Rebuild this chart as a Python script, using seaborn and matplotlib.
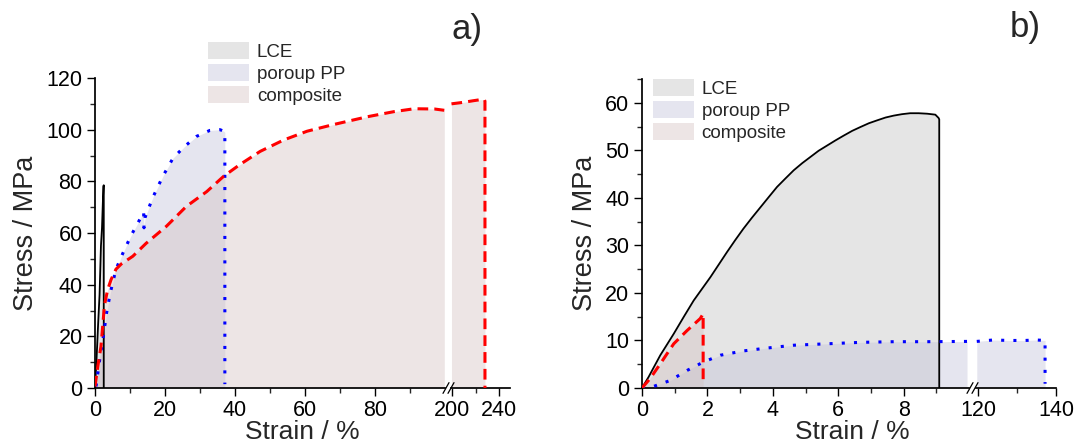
import numpy as np
import pandas as pd
import matplotlib
matplotlib.use("Agg")
import matplotlib.pyplot as plt
from matplotlib.patches import Patch
from matplotlib.ticker import MultipleLocator
import seaborn as sns

# ---- panel a) data (strain %, stress MPa) ----
a_lce_strain = [0, 0.4, 0.9, 1.3, 1.7, 2.0, 2.2, 2.4, 2.5, 2.5]
a_lce_stress = [0, 10, 25, 36, 55, 62, 70, 78, 78.5, 0]

a_pp_strain = [0.3, 1.2, 2.5, 3.3, 4.4, 6.0, 7.9, 10.3, 12.7, 13.9, 14.0, 14.3, 16.6,
               19.4, 22.3, 25.6, 29.0, 32.8, 35.7, 36.8, 37.1, 37.1]
a_pp_stress = [0.6, 9.7, 21, 29, 37, 46, 52, 59, 65, 68, 62, 66, 74,
               82, 89, 93.5, 97.4, 99.7, 100, 99.4, 99, 1.5]

a_comp_strain = [0, 0.8, 1.7, 2.7, 3.6, 4.6, 6.0, 7.5, 10.8, 14.6, 20.4, 26.1, 31.9,
                 36.8, 41.4, 47.2, 53.9, 60.6, 68.2, 77.8, 85.5, 91.2, 97.0, 99.8,
                 199.5, 210, 218, 224, 227.5, 228, 228]
a_comp_stress = [0.6, 8.4, 16, 32, 38, 42, 46, 48, 51, 56, 62.6, 70.3, 76,
                 82, 86.5, 91.6, 96, 99.4, 102, 105, 107, 108.1, 108, 107.5,
                 110, 110.6, 111.2, 111.6, 111.6, 111, 0]

# ---- panel b) data ----
b_lce_strain = [0, 0.2, 0.38, 0.56, 0.77, 0.97, 1.28, 1.58, 1.84, 2.09, 2.35, 2.6,
                2.85, 3.1, 3.36, 3.62, 3.88, 4.13, 4.39, 4.64, 4.9, 5.15, 5.4,
                5.66, 5.92, 6.17, 6.43, 6.68, 6.94, 7.19, 7.45, 7.7, 7.95, 8.2,
                8.46, 8.72, 8.97, 9.07, 9.09, 9.09]
b_lce_stress = [0, 2.3, 4.6, 6.9, 9.2, 11.4, 15.0, 18.4, 20.9, 23.3, 26.0, 28.6,
                31.1, 33.5, 35.8, 38, 40.2, 42.3, 44.1, 45.8, 47.3, 48.6, 49.9,
                51, 52.1, 53.1, 54.1, 54.9, 55.7, 56.3, 56.9, 57.3, 57.6, 57.8,
                57.8, 57.7, 57.5, 56.8, 56.5, 0]

b_pp_strain = [0, 0.36, 0.87, 1.38, 1.89, 2.4, 3.1, 3.82, 4.64, 5.66, 6.68, 7.7,
               8.72, 9.94, 119.7, 123.9, 128, 132, 135, 137.2, 137.2]
b_pp_stress = [0, 0.35, 1.6, 3.7, 5.5, 6.9, 7.8, 8.4, 9.0, 9.3, 9.6, 9.74,
               9.74, 9.8, 9.8, 10.1, 10.0, 10.0, 10.1, 10.0, 0.9]

b_comp_strain = [0, 0.25, 0.56, 0.97, 1.38, 1.78, 1.87, 1.87]
b_comp_stress = [0, 2, 5.1, 9.3, 12.1, 14.6, 15.6, 1.6]

labels = ["LCE", "poroup PP", "composite"]
fill_colors = ["#bebebe", "#c0c0d7", "#d2c0c0"]
line_colors = ["black", "#0000ff", "#ff0000"]
line_styles = ["-", (0, (1, 3)), (0, (3.5, 2))]
line_widths = [1.3, 2.2, 2.2]

sns.set_theme(style="ticks")
plt.rcParams["font.family"] = ["Liberation Sans", "DejaVu Sans"]
plt.rcParams["xtick.direction"] = "out"
plt.rcParams["ytick.direction"] = "out"

W, H = 1076, 447
fig = plt.figure(figsize=(W / 100, H / 100), dpi=100)


def rect(x0, x1, ytop, ybot):
    return [x0 / W, 1 - ybot / H, (x1 - x0) / W, (ybot - ytop) / H]


def draw(ax, xs, ys, i, lo, hi):
    df = pd.DataFrame({"x": xs, "y": ys})
    df = df[(df.x >= lo) & (df.x <= hi)]
    if df.empty:
        return
    ax.fill_between(df.x, 0, df.y, color=fill_colors[i], alpha=0.4, lw=0)
    sns.lineplot(data=df, x="x", y="y", ax=ax, sort=False, estimator=None,
                 color=line_colors[i], lw=line_widths[i], zorder=3)
    ax.lines[-1].set_linestyle(line_styles[i])


def panel(rects, xlims, ylim, series, xmaj, xmin, ymaj, ymin, right_major, right_minor):
    axl = fig.add_axes(rect(*rects[0]))
    axr = fig.add_axes(rect(*rects[1]), sharey=axl)
    for i, (xs, ys) in enumerate(series):
        draw(axl, xs, ys, i, *xlims[0])
        draw(axr, xs, ys, i, *xlims[1])
    axl.set_xlim(*xlims[0])
    axr.set_xlim(*xlims[1])
    axl.set_ylim(*ylim)
    for ax in (axl, axr):
        ax.set_xlabel("")
        ax.set_ylabel("")
        ax.spines["top"].set_visible(False)
        ax.spines["right"].set_visible(False)
        ax.tick_params(which="major", length=6, width=1, labelsize=15.5, pad=3, colors="black")
        ax.tick_params(which="minor", length=3.5, width=1)
        ax.spines["bottom"].set_color("black")
        ax.spines["left"].set_color("black")
    hi = xlims[0][1]
    axl.set_xticks(np.arange(0, hi - 1e-6, xmaj))
    axl.set_xticks(np.arange(xmin, hi - 1e-6, xmin), minor=True)
    axl.xaxis.set_major_formatter(matplotlib.ticker.FormatStrFormatter("%d"))
    axl.yaxis.set_major_locator(MultipleLocator(ymaj))
    axl.yaxis.set_minor_locator(MultipleLocator(ymin))
    axr.set_xticks(right_major)
    axr.set_xticks(right_minor, minor=True)
    axr.spines["left"].set_visible(False)
    axr.tick_params(axis="y", which="both", left=False, labelleft=False)
    # break marks
    d = 0.012
    kw = dict(color="black", lw=0.9, clip_on=False, transform=fig.transFigure)
    xb = (rects[0][1] + 1) / W
    yb = 1 - rects[0][3] / H
    for off in (0, 5 / W):
        fig.lines.append(plt.Line2D([xb + off - 3 / W, xb + off + 3 / W],
                                    [yb - d, yb + d], **kw))
    axl.set_ylabel("Stress / MPa", fontsize=19.5, labelpad=5)
    return axl, axr


# panel a
axa, axa2 = panel([(95, 445, 78, 388), (451, 510, 78, 388)],
                  [(0, 100), (199.1, 249.3)], (0, 120),
                  [(a_lce_strain, a_lce_stress), (a_pp_strain, a_pp_stress),
                   (a_comp_strain, a_comp_stress)],
                  20, 10, 20, 10, [200, 240], [220])

# panel b
axb, axb2 = panel([(642, 969, 79, 388), (976, 1056, 79, 388)],
                  [(0, 10), (119.5, 140)], (0, 65),
                  [(b_lce_strain, b_lce_stress), (b_pp_strain, b_pp_stress),
                   (b_comp_strain, b_comp_stress)],
                  2, 1, 10, 5, [120, 140], [130])

fig.text(302 / W, 1 - 432 / H, "Strain / %", fontsize=19, ha="center", va="center")
fig.text(852 / W, 1 - 432 / H, "Strain / %", fontsize=19, ha="center", va="center")
fig.text(467 / W, 1 - 29 / H, "a)", fontsize=25, ha="center", va="center")
fig.text(1025 / W, 1 - 28 / H, "b)", fontsize=25, ha="center", va="center")

handles = [Patch(facecolor=c, alpha=0.4, edgecolor="none") for c in fill_colors]
for x0, y0 in [(208, 42), (653, 79)]:
    fig.legend(handles, labels, loc="upper left", bbox_to_anchor=(x0 / W, 1 - y0 / H),
               frameon=False, fontsize=13.5, handlelength=2.2, handleheight=1.05,
               labelspacing=0.15, handletextpad=0.4, borderpad=0, borderaxespad=0)

fig.savefig("out.png", dpi=100)
